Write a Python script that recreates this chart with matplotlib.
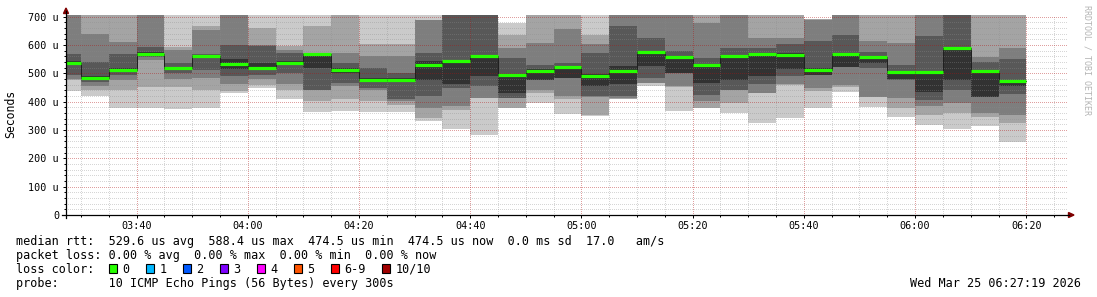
import matplotlib
matplotlib.use("Agg")
import matplotlib.pyplot as plt
import numpy as np
from matplotlib.lines import Line2D
from matplotlib.patches import Polygon, Rectangle
from matplotlib.ticker import FixedLocator, MultipleLocator

# ---------------- data ----------------
# 5-minute intervals starting 03:25 (minutes after midnight of interval start)
interval_start = list(range(205, 380, 5))   # 03:25 ... 06:15
interval_len = 5
view_start = 3 * 60 + 27 + 19 / 60          # 03:27:19
view_end = 6 * 60 + 27 + 19 / 60            # 06:27:19

# sorted ping round-trip times (microseconds), rank 1 (fastest) .. rank 10 (slowest)
p01 = [439, 419, 379, 376, 374, 379, 432, 447, 411, 364, 366, 362, 364, 331, 302, 284, 376, 396, 355, 350,
       408, 455, 366, 376, 361, 325, 343, 376, 435, 380, 347, 318, 304, 314, 259]
p02 = [475, 440, 441, 452, 453, 443, 438, 459, 443, 404, 408, 402, 390, 343, 372, 412, 378, 431, 408, 352,
       411, 466, 452, 378, 396, 430, 460, 439, 451, 415, 376, 353, 359, 347, 324]
p03 = [480, 455, 476, 548, 479, 482, 462, 480, 461, 442, 455, 440, 402, 378, 384, 414, 412, 443, 420, 418,
       414, 467, 455, 402, 440, 431, 461, 447, 459, 418, 412, 385, 394, 359, 353]
p04 = [494, 470, 494, 558, 500, 512, 490, 494, 502, 443, 467, 449, 410, 419, 449, 455, 414, 477, 483, 420,
       420, 484, 500, 425, 443, 461, 490, 493, 523, 518, 478, 406, 441, 417, 426]
p05 = [528, 480, 508, 566, 512, 555, 515, 512, 528, 520, 502, 472, 470, 478, 461, 490, 431, 478, 484, 455,
       461, 525, 502, 467, 478, 490, 514, 494, 524, 535, 479, 435, 476, 418, 455]
p06 = [545, 490, 518, 574, 524, 565, 551, 535, 545, 561, 520, 484, 482, 543, 545, 565, 496, 514, 525, 496,
       526, 579, 561, 531, 561, 573, 573, 518, 571, 559, 506, 505, 590, 509, 476]
p07 = [570, 540, 570, 594, 535, 570, 600, 598, 573, 572, 537, 520, 502, 573, 720, 720, 555, 531, 537, 573,
       667, 626, 578, 555, 590, 590, 602, 615, 635, 576, 529, 632, 720, 541, 549]
p08 = [720, 640, 612, 720, 582, 653, 720, 600, 584, 573, 573, 561, 561, 688, 730, 730, 590, 608, 655, 604,
       720, 720, 720, 679, 720, 626, 626, 690, 720, 615, 606, 720, 730, 559, 588]
p09 = [730, 720, 720, 730, 594, 667, 730, 661, 596, 667, 720, 602, 604, 690, 740, 740, 637, 720, 720, 637,
       730, 730, 730, 720, 730, 720, 720, 691, 730, 720, 720, 730, 740, 720, 720]
p10 = [740, 740, 740, 740, 720, 720, 740, 720, 720, 720, 730, 720, 720, 720, 750, 750, 679, 730, 730, 720,
       740, 740, 740, 730, 740, 730, 730, 692, 740, 730, 730, 740, 750, 730, 730]

median_rtt = [537, 485, 512, 570, 518, 560, 533, 518, 537, 568, 512, 477, 476, 528, 542, 563, 493, 510, 522,
              489, 507, 577, 556, 528, 560, 570, 566, 512, 567, 556, 505, 505, 588.4, 510, 474.5]

y_ticks = [0, 100, 200, 300, 400, 500, 600, 700]
y_tick_labels = ["0", "100 u", "200 u", "300 u", "400 u", "500 u", "600 u", "700 u"]
x_ticks = [220, 240, 260, 280, 300, 320, 340, 360, 380]
x_tick_labels = ["03:40", "04:00", "04:20", "04:40", "05:00", "05:20", "05:40", "06:00", "06:20"]

legend_median = "median rtt:  529.6 us avg  588.4 us max  474.5 us min  474.5 us now  0.0 ms sd  17.0   am/s"
legend_loss = "packet loss: 0.00 % avg  0.00 % max  0.00 % min  0.00 % now"
legend_probe = "probe:       10 ICMP Echo Pings (56 Bytes) every 300s"
timestamp = "Wed Mar 25 06:27:19 2026"
loss_labels = ["0", "1", "2", "3", "4", "5", "6-9", "10/10"]
loss_colors = ["#26ff00", "#00b8ff", "#0059ff", "#7e00ff", "#ff00ff", "#ff5500", "#ff0000", "#a10000"]

# ---------------- figure ----------------
W, H, DPI = 1097, 297, 100
MONO = "DejaVu Sans Mono"
fig = plt.figure(figsize=(W / DPI, H / DPI), dpi=DPI)
fig.patch.set_facecolor("white")


def fx(x):
    return x / W


def fy(y):
    return 1 - y / H


ax_left, ax_right, ax_top, ax_bottom = 66, 1067, 15, 215
ax = fig.add_axes([fx(ax_left), fy(ax_bottom), (ax_right - ax_left) / W, (ax_bottom - ax_top) / H])
ax.set_facecolor("white")
ax.set_xlim(view_start, view_end)
ax.set_ylim(0, 706)

P = np.array([p01, p02, p03, p04, p05, p06, p07, p08, p09, p10], dtype=float)
starts = np.array(interval_start, dtype=float)
xs = np.append(starts, starts[-1] + interval_len)

# smokeping style shades: outer pair lightest, inner pair darkest
half = 5
shade = {}
for ibot in range(1, half + 1):
    c = int(190 / half * (half - ibot)) + 50
    shade[ibot] = "#%02x%02x%02x" % (c, c, c)
for j in range(9):
    level = min(j, 8 - j) + 1
    lo = np.append(P[j], P[j][-1])
    hi = np.append(P[j + 1], P[j + 1][-1])
    ax.fill_between(xs, lo, hi, step="post", color=shade[level], linewidth=0,
                    antialiased=False, zorder=1)

# median: thin dark step line + thick loss-coloured segments
med = np.array(median_rtt, dtype=float)
ax.step(xs, np.append(med, med[-1]), where="post", color="#202020", lw=0.72, zorder=3)
lc = ax.hlines(med, starts, starts + interval_len, colors=loss_colors[0], lw=2.3, zorder=4)
lc.set_capstyle("butt")

# grid (drawn over the smoke, semi-transparent dotted)
ax.xaxis.set_major_locator(FixedLocator(x_ticks))
ax.xaxis.set_minor_locator(MultipleLocator(5))
ax.yaxis.set_major_locator(FixedLocator(y_ticks))
ax.yaxis.set_minor_locator(MultipleLocator(20))
ax.set_xticklabels(x_tick_labels)
ax.set_yticklabels(y_tick_labels)
ax.set_axisbelow(False)
ax.grid(which="minor", color="#8c8c8c", alpha=0.35, linestyle=(0, (1, 1.4)), lw=0.72)
ax.grid(which="major", color="#b11111", alpha=0.4, linestyle=(0, (1, 1.4)), lw=0.72)
for axis in (ax.xaxis, ax.yaxis):
    for gl in axis.get_gridlines() + axis.get_minorticklines()[:0]:
        pass
for gl in ax.get_xgridlines() + ax.get_ygridlines():
    gl.set_zorder(2.5)
    gl.set_antialiased(False)
for t in ax.xaxis.get_minor_ticks() + ax.yaxis.get_minor_ticks():
    t.gridline.set_zorder(2.5)
    t.gridline.set_antialiased(False)

ax.tick_params(which="major", length=2.5, width=0.72, color="#000000", direction="out",
               labelsize=7.3, labelcolor="#000000")
ax.tick_params(which="minor", length=1.5, width=0.72, color="#000000", direction="out")
ax.tick_params(axis="x", which="major", pad=2.0)
ax.tick_params(axis="y", which="major", pad=2.5)
for lab in ax.get_xticklabels() + ax.get_yticklabels():
    lab.set_fontfamily(MONO)
for s in ax.spines.values():
    s.set_visible(False)

# axes lines and arrows (pixel positions)
tf = fig.transFigure
fig.add_artist(Line2D([fx(66), fx(66)], [fy(218), fy(11)], color="#000000", lw=0.9, transform=tf))
fig.add_artist(Line2D([fx(62), fx(1069)], [fy(215), fy(215)], color="#000000", lw=0.9, transform=tf))
fig.add_artist(Polygon([[fx(63.5), fy(13.5)], [fx(68.5), fy(13.5)], [fx(66), fy(8)]],
                       closed=True, color="#7f0000", transform=tf))
fig.add_artist(Polygon([[fx(1068.5), fy(212.5)], [fx(1068.5), fy(217.5)], [fx(1074), fy(215)]],
                       closed=True, color="#7f0000", transform=tf))

# labels
fig.text(fx(11), fy(113.5), "Seconds", rotation=90, ha="center", va="center",
         family=MONO, size=8.3, color="#000000")
fig.text(fx(1087), fy(60), "RRDTOOL / TOBI OETIKER", rotation=270, ha="center", va="center",
         family=MONO, size=6.0, color="#b4b4b4")

LS = 8.5
fig.text(fx(16), fy(241.5), legend_median, ha="left", va="center", family=MONO, size=LS)
fig.text(fx(16), fy(255.5), legend_loss, ha="left", va="center", family=MONO, size=LS)
fig.text(fx(16), fy(269.5), "loss color:", ha="left", va="center", family=MONO, size=LS)
fig.text(fx(16), fy(283.5), legend_probe, ha="left", va="center", family=MONO, size=LS)
fig.text(fx(1081), fy(283.5), timestamp, ha="right", va="center", family=MONO, size=LS)

sq_x = [109, 146, 183, 220, 257, 294, 331, 382]
for x0, lab, col in zip(sq_x, loss_labels, loss_colors):
    fig.add_artist(Rectangle((fx(x0), fy(272.5)), 7.5 / W, 8.5 / H, facecolor=col,
                             edgecolor="#000000", lw=0.8, transform=tf))
    fig.text(fx(x0 + 13.5), fy(269.5), lab, ha="left", va="center", family=MONO, size=LS)

fig.savefig("out.png", dpi=DPI, facecolor="white")
